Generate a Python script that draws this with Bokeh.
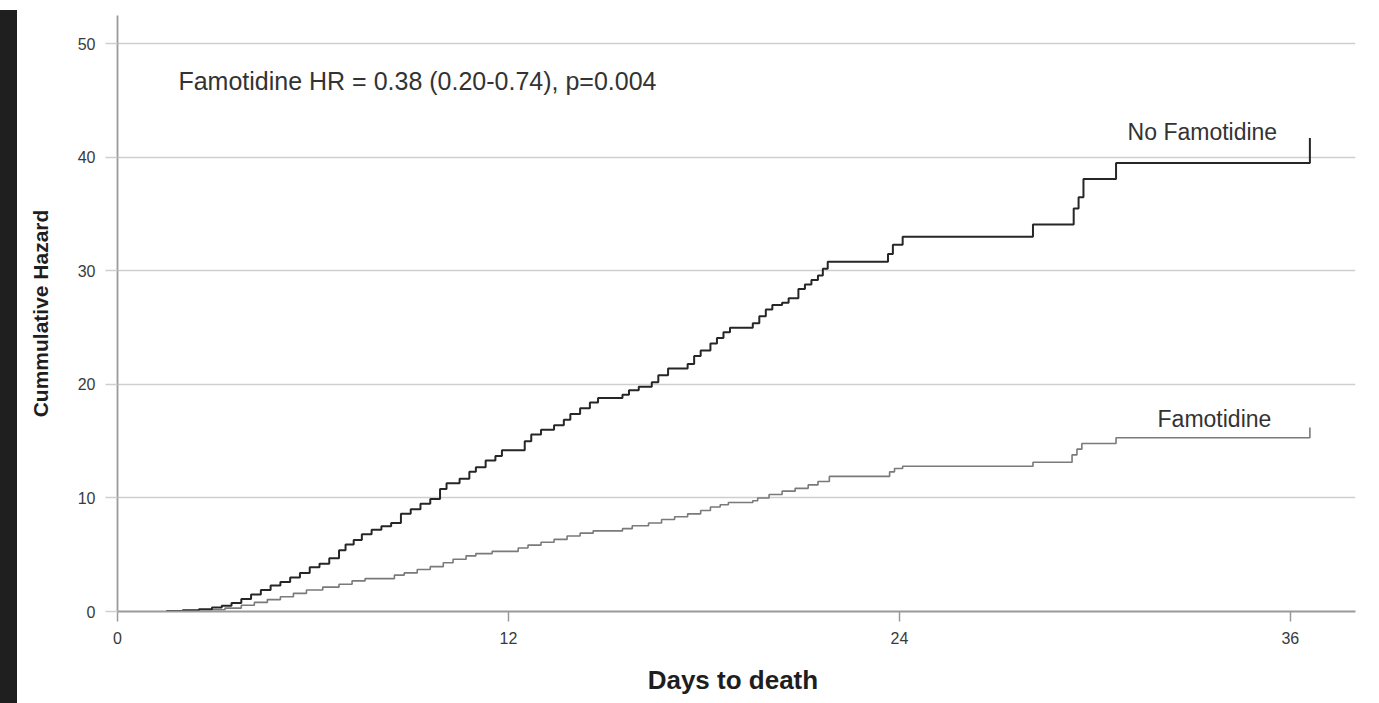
from bokeh.plotting import figure
from bokeh.models import FixedTicker, Label, Div
from bokeh.layouts import row, column
from bokeh.embed import file_html
from bokeh.resources import INLINE

# ---- data ----
x_ticks = [0, 12, 24, 36]
y_ticks = [0, 10, 20, 30, 40, 50]

no_famo_days = [1.5, 2.0, 2.5, 2.9, 3.2, 3.5, 3.8, 4.1, 4.4, 4.7, 5.0, 5.3, 5.6, 5.9,
                6.2, 6.5, 6.8, 7.0, 7.25, 7.5, 7.8, 8.1, 8.4, 8.7, 9.0, 9.3, 9.6, 9.9,
                10.1, 10.5, 10.8, 11.0, 11.3, 11.6, 11.8, 12.5, 12.7, 13.0, 13.4, 13.7,
                13.9, 14.2, 14.5, 14.75, 15.5, 15.7, 16.0, 16.4, 16.6, 16.9, 17.5, 17.7,
                17.9, 18.2, 18.4, 18.6, 18.8, 19.5, 19.7, 19.9, 20.1, 20.4, 20.6, 20.9,
                21.1, 21.3, 21.5, 21.65, 21.8, 23.65, 23.8, 24.1, 28.1, 29.35, 29.5,
                29.65, 30.65, 36.6]
no_famo_hazard = [0.05, 0.1, 0.2, 0.35, 0.5, 0.75, 1.1, 1.5, 1.9, 2.3, 2.6, 3.0, 3.4, 3.9,
                  4.2, 4.7, 5.4, 5.9, 6.3, 6.8, 7.2, 7.5, 7.8, 8.6, 9.0, 9.5, 9.9, 10.8,
                  11.3, 11.7, 12.3, 12.7, 13.3, 13.7, 14.2, 15.0, 15.6, 16.0, 16.4, 16.9,
                  17.4, 17.9, 18.4, 18.8, 19.1, 19.5, 19.8, 20.2, 20.8, 21.4, 21.8, 22.5,
                  23.0, 23.6, 24.1, 24.6, 25.0, 25.4, 26.0, 26.6, 27.0, 27.2, 27.6, 28.4,
                  28.8, 29.2, 29.6, 30.2, 30.8, 31.5, 32.3, 33.0, 34.1, 35.5, 36.5,
                  38.1, 39.5, 41.7]

famo_days = [1.5, 2.5, 3.3, 3.8, 4.2, 4.6, 5.0, 5.4, 5.8, 6.3, 6.8, 7.2, 7.6, 8.5, 8.8,
             9.2, 9.6, 10.0, 10.3, 10.7, 11.0, 11.5, 12.3, 12.6, 13.0, 13.4, 13.8, 14.2,
             14.6, 15.5, 15.8, 16.3, 16.7, 17.1, 17.5, 17.9, 18.2, 18.5, 18.75, 19.5,
             19.65, 20.0, 20.4, 20.8, 21.2, 21.5, 21.85, 23.7, 23.85, 24.1, 28.1, 29.3,
             29.45, 29.6, 30.65, 36.6]
famo_hazard = [0.05, 0.15, 0.3, 0.55, 0.8, 1.05, 1.3, 1.6, 1.9, 2.15, 2.4, 2.7, 2.9, 3.2,
               3.4, 3.7, 3.95, 4.3, 4.6, 4.9, 5.1, 5.3, 5.6, 5.85, 6.1, 6.35, 6.65, 6.9,
               7.1, 7.3, 7.55, 7.8, 8.1, 8.35, 8.6, 8.9, 9.2, 9.4, 9.6, 9.75, 10.0, 10.3,
               10.6, 10.85, 11.15, 11.45, 11.9, 12.3, 12.6, 12.8, 13.15, 13.8, 14.3,
               14.8, 15.3, 16.2]

FONT = "Liberation Sans"

p = figure(width=1359, height=700, output_backend="svg", toolbar_location=None,
           x_range=(0, 38.0), y_range=(0, 52.5),
           min_border_left=95, min_border_right=26, min_border_top=10,
           min_border_bottom=94)
p.outline_line_color = None
p.background_fill_color = "white"
p.border_fill_color = "white"

# grid
p.xgrid.grid_line_color = None
p.ygrid.grid_line_color = "#cfcfcf"
p.ygrid.grid_line_width = 1.6
p.ygrid.ticker = FixedTicker(ticks=y_ticks)

# axes
p.xaxis.ticker = FixedTicker(ticks=x_ticks)
p.yaxis.ticker = FixedTicker(ticks=y_ticks)
for ax in (p.xaxis[0], p.yaxis[0]):
    ax.axis_line_color = "#9a9a9a"
    ax.axis_line_width = 1.8
    ax.major_tick_in = 0
    ax.minor_tick_line_color = None
    ax.major_label_text_font = FONT
    ax.major_label_text_font_size = "16px"
    ax.major_label_text_color = "#3a3a3a"
    ax.axis_label_text_font = FONT
    ax.axis_label_text_font_style = "bold"
    ax.axis_label_text_color = "#1e1e1e"

p.xaxis.major_tick_out = 10
p.xaxis.major_tick_line_color = "#9a9a9a"
p.xaxis.major_tick_line_width = 1.5
p.xaxis.major_label_standoff = 10
p.xaxis.axis_label = "Days  to death"
p.xaxis.axis_label_text_font_size = "26px"
p.xaxis.axis_label_standoff = 18

p.yaxis.major_tick_out = 12
p.yaxis.major_tick_line_color = "#cfcfcf"
p.yaxis.major_tick_line_width = 1.6
p.yaxis.major_label_standoff = 10
p.yaxis.axis_label = "Cummulative Hazard"
p.yaxis.axis_label_text_font_size = "21px"
p.yaxis.axis_label_standoff = 23

# curves
p.step(famo_days, famo_hazard, mode="after", line_color="#7a7a7a", line_width=1.6)
p.step(no_famo_days, no_famo_hazard, mode="after", line_color="#262626", line_width=2.0)

# texts
p.add_layout(Label(x=1.87, y=46.7, text="Famotidine HR = 0.38 (0.20-0.74), p=0.004",
                   text_font=FONT, text_font_size="25px", text_color="#333333",
                   text_align="left", text_baseline="middle"))
p.add_layout(Label(x=33.3, y=42.25, text="No Famotidine",
                   text_font=FONT, text_font_size="23px", text_color="#333333",
                   text_align="center", text_baseline="middle"))
p.add_layout(Label(x=33.67, y=17.0, text="Famotidine",
                   text_font=FONT, text_font_size="23px", text_color="#333333",
                   text_align="center", text_baseline="middle"))

# dark frame strips of the original screenshot
top_strip = Div(text="", width=1379, height=3, styles={"background-color": "#1f1f1f"})
left_strip = Div(text="", width=20, height=700, styles={"background-color": "#1f1f1f"})

layout = column(top_strip, row(left_strip, p, spacing=0), spacing=0,
                styles={"margin-left": "-8px", "margin-top": "-8px"})

open("out.html", "w").write(file_html(layout, INLINE))
